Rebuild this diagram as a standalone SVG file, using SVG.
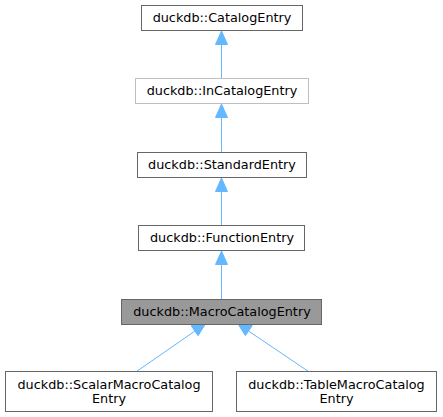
<svg xmlns="http://www.w3.org/2000/svg" width="443" height="417" viewBox="0 0 443 417">
<style>
.n{fill:#ffffff;stroke:#666666;stroke-width:1}
.g{fill:#ffffff;stroke:#bfbfbf;stroke-width:1}
.h{fill:#999999;stroke:#666666;stroke-width:1}
text{font-family:"DejaVu Sans",sans-serif;font-size:12.8px;fill:#000000;text-anchor:middle}
.e{stroke:#63b8ff;stroke-width:1;fill:none}
.a{fill:#63b8ff;stroke:#63b8ff}
</style>
<rect width="443" height="417" fill="#ffffff"/>
<g id="connectors">
<line class="e" x1="221.5" y1="78.5" x2="221.5" y2="44"/><polygon class="a" points="221.5,31 227.5,44.5 215.5,44.5"/>
<line class="e" x1="221.5" y1="152.5" x2="221.5" y2="117"/><polygon class="a" points="221.5,104 227.5,117.5 215.5,117.5"/>
<line class="e" x1="221.5" y1="225.5" x2="221.5" y2="190"/><polygon class="a" points="221.5,178 227.5,191.5 215.5,191.5"/>
<line class="e" x1="221.5" y1="299.5" x2="221.5" y2="264"/><polygon class="a" points="221.5,251 227.5,264.5 215.5,264.5"/>
<line class="e" x1="136.5" y1="371.5" x2="195" y2="331"/><polygon class="a" points="205.7,323.5 198.1,335.7 191.2,325.8"/>
<line class="e" x1="308.5" y1="371.5" x2="248.5" y2="331"/><polygon class="a" points="237.7,323.5 252.2,325.7 245.4,335.6"/>
</g>
<g id="node1"><rect class="n" x="141.5" y="5.5" width="161" height="25"/><text x="222" y="21.5">duckdb::CatalogEntry</text></g>
<g id="node2"><rect class="g" x="135.5" y="78.5" width="173" height="25"/><text x="222" y="94.5">duckdb::InCatalogEntry</text></g>
<g id="node3"><rect class="n" x="137.5" y="152.5" width="169" height="25"/><text x="222" y="168.5">duckdb::StandardEntry</text></g>
<g id="node4"><rect class="n" x="138.5" y="225.5" width="166" height="25"/><text x="222" y="241.5">duckdb::FunctionEntry</text></g>
<g id="node5"><rect class="h" x="121.5" y="299.5" width="200" height="25"/><text x="222" y="315.5">duckdb::MacroCatalogEntry</text></g>
<g id="node6"><rect class="n" x="5.5" y="371.5" width="207" height="40"/><text x="109" y="388.5">duckdb::ScalarMacroCatalog</text><text x="109" y="402.5">Entry</text></g>
<g id="node7"><rect class="n" x="236.5" y="371.5" width="200" height="40"/><text x="336.5" y="388.5">duckdb::TableMacroCatalog</text><text x="336.5" y="402.5">Entry</text></g>
</svg>
